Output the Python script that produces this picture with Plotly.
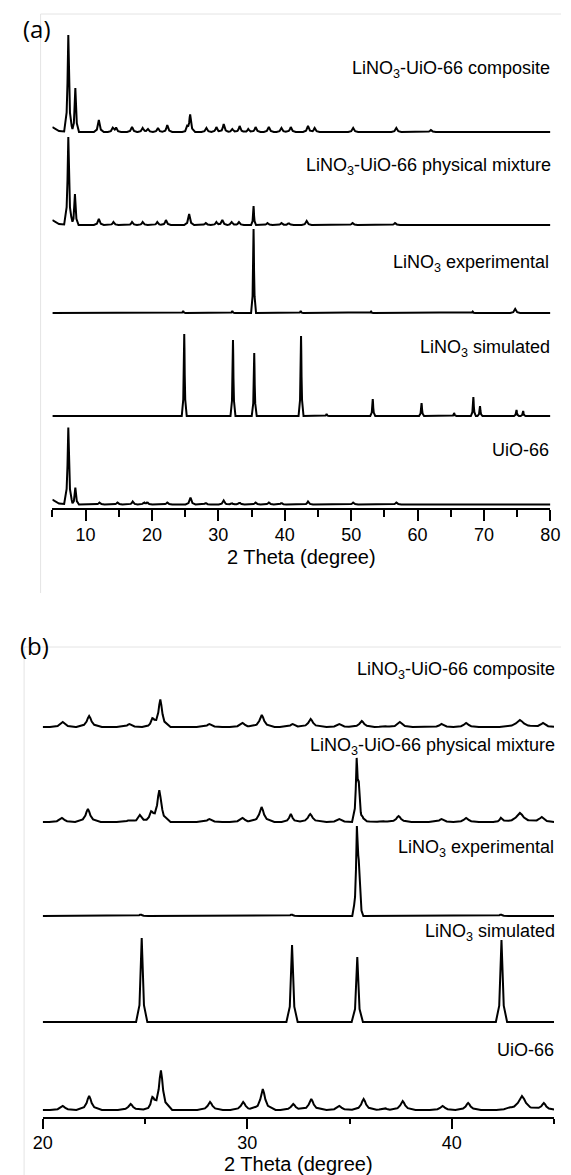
import numpy as np
import plotly.graph_objects as go

# ---------------- DATA (intensities in a.u.) ----------------
# Panel (a): 2-theta 5-80
A_COMP_POS = [5.0, 7.4, 8.46, 12.0, 14.1, 14.6, 17.0, 18.6, 19.4, 20.9, 22.3, 25.3, 25.75, 28.2, 29.7,
              30.8, 32.1, 33.2, 34.5, 35.6, 37.6, 39.5, 40.9, 43.5, 44.5, 50.3, 56.8, 62.0]
A_COMP_H = [5, 97, 44, 12, 4, 4, 5, 4, 3, 4, 7, 4, 17, 4, 5, 8, 3, 6, 3, 5, 5, 4, 5, 6, 4, 4, 4, 2]
A_COMP_W = [1.0, 0.25, 0.22] + [0.3] * 25

A_MIX_POS = [5.0, 7.4, 8.4, 12.0, 14.2, 17.0, 18.6, 20.8, 22.1, 25.6, 28.1, 29.7, 30.6, 32.0, 33.1,
             35.3, 37.4, 39.5, 40.6, 43.3, 50.2, 56.6]
A_MIX_H = [5, 88, 31, 6, 3, 3, 3, 3, 5, 11, 2, 3, 5, 3, 3, 19, 2, 2, 2, 4, 2, 2]
A_MIX_W = [1.0, 0.25, 0.22] + [0.3] * 12 + [0.15] + [0.3] * 6

A_EXP_POS = [24.7, 32.1, 35.3, 42.4, 53.0, 68.3, 74.7]
A_EXP_H = [2, 2, 84, 2, 1.5, 1.5, 4]
A_EXP_W = [0.15, 0.15, 0.15, 0.15, 0.15, 0.15, 0.3]

A_SIM_POS = [24.86, 32.2, 35.4, 42.45, 46.3, 53.25, 60.6, 65.5, 68.4, 69.4, 74.9, 75.9]
A_SIM_H = [82, 76, 63, 80, 2, 17, 13, 3, 19, 10, 6, 5]
A_SIM_W = [0.15] * 12

A_UIO_POS = [5.0, 7.4, 8.46, 12.1, 14.8, 17.1, 18.8, 19.3, 22.3, 25.8, 28.1, 30.8, 32.0, 33.2, 35.6,
             37.6, 39.5, 43.5, 50.3, 56.8]
A_UIO_H = [5, 77, 17, 2, 2, 3, 2, 2, 2, 7, 1.5, 4, 1.5, 2, 2, 2, 1.5, 3, 2, 2]
A_UIO_W = [1.0, 0.25, 0.22] + [0.3] * 17

# Panel (b): 2-theta 20-45
B_COMP_POS = [20.98, 22.27, 24.24, 25.36, 25.75, 28.15, 29.77, 30.71, 32.22, 33.1, 34.5, 35.6, 36.7,
              37.46, 39.5, 40.7, 43.33, 44.46]
B_COMP_H = [5, 11, 3, 7, 27, 3, 4, 12, 3, 8, 3, 6, 1, 5, 3, 4, 7, 4]
B_COMP_W = [0.25, 0.25, 0.25, 0.2, 0.2, 0.25, 0.25, 0.25, 0.25, 0.25, 0.25, 0.25, 0.25, 0.25, 0.25,
            0.25, 0.4, 0.25]

B_MIX_POS = [20.94, 22.21, 24.24, 24.75, 25.3, 25.7, 28.15, 29.77, 30.7, 32.13, 33.08, 34.5, 35.35,
             35.45, 35.65, 36.6, 37.4, 39.5, 40.7, 42.4, 43.33, 44.4]
B_MIX_H = [4, 13, 2, 7, 8, 31, 3, 4, 15, 8, 8, 3, 58, 30, 4, 1, 6, 3, 4, 4, 9, 5]
B_MIX_W = [0.25, 0.25, 0.25, 0.18, 0.22, 0.22, 0.25, 0.25, 0.25, 0.18, 0.25, 0.25, 0.09, 0.09, 0.2,
           0.25, 0.25, 0.25, 0.25, 0.15, 0.4, 0.25]

B_EXP_POS = [24.79, 32.17, 35.36, 35.45, 42.4]
B_EXP_H = [1.5, 1.5, 82, 40, 1.5]
B_EXP_W = [0.15, 0.15, 0.09, 0.09, 0.15]

B_SIM_POS = [24.84, 32.19, 35.38, 42.43]
B_SIM_H = [84, 77, 65, 82]
B_SIM_W = [0.11, 0.11, 0.11, 0.11]

B_UIO_POS = [20.98, 22.27, 24.3, 25.36, 25.78, 28.18, 29.8, 30.76, 32.25, 33.13, 34.5, 35.69, 36.7,
             37.6, 39.55, 40.8, 42.8, 43.43, 44.5]
B_UIO_H = [4, 14, 6, 10, 39, 8, 8, 21, 6, 11, 4, 11, 2, 9, 4, 7, 1, 14, 7]
B_UIO_W = [0.25, 0.25, 0.25, 0.2, 0.22, 0.25, 0.25, 0.25, 0.25, 0.25, 0.25, 0.25, 0.25, 0.25, 0.25,
           0.25, 0.25, 0.4, 0.25]

LABELS = ["LiNO<sub>3</sub>-UiO-66 composite", "LiNO<sub>3</sub>-UiO-66 physical mixture",
          "LiNO<sub>3</sub> experimental", "LiNO<sub>3</sub> simulated", "UiO-66"]
A_TICKS = [10, 20, 30, 40, 50, 60, 70, 80]
A_MINOR = [5, 15, 25, 35, 45, 55, 65, 75]
B_TICKS = [20, 30, 40]
B_MINOR = [25, 35, 45]
X_TITLE = "2 Theta (degree)"

# ---------------- rendering helpers ----------------
W, H = 571, 1175
PEAK_SHAPE_X = [-2.5, -1.0, -0.5, -0.25, 0.0, 0.25, 0.5, 1.0, 2.5]
PEAK_SHAPE_Y = [0.0, 0.2, 0.5, 0.8, 1.0, 0.8, 0.5, 0.2, 0.0]


def pattern(pos, hgt, wid, lo, hi):
    keys = {lo, hi}
    for p, w in zip(pos, wid):
        for k in PEAK_SHAPE_X:
            keys.add(p + k * w)
    xs = np.array(sorted(k for k in keys if lo <= k <= hi))
    ys = np.zeros(len(xs))
    for p, h, w in zip(pos, hgt, wid):
        ys += h * np.interp((xs - p) / w, PEAK_SHAPE_X, PEAK_SHAPE_Y, left=0, right=0)
    return xs, ys


def py(px):  # pixel row -> paper y
    return 1 - px / H


def pxx(px):
    return px / W


fig = go.Figure()

A_SETS = [(A_COMP_POS, A_COMP_H, A_COMP_W), (A_MIX_POS, A_MIX_H, A_MIX_W),
          (A_EXP_POS, A_EXP_H, A_EXP_W), (A_SIM_POS, A_SIM_H, A_SIM_W), (A_UIO_POS, A_UIO_H, A_UIO_W)]
A_OFFS = [376, 283, 195, 92, 3.5]
for (pos, hgt, wid), off, name in zip(A_SETS, A_OFFS, LABELS):
    xs, ys = pattern(pos, hgt, wid, 5, 80)
    fig.add_trace(go.Scatter(x=xs, y=ys + off, mode="lines", name=name,
                             line=dict(color="black", width=2), xaxis="x", yaxis="y",
                             showlegend=False, hoverinfo="skip"))

B_SETS = [(B_COMP_POS, B_COMP_H, B_COMP_W), (B_MIX_POS, B_MIX_H, B_MIX_W),
          (B_EXP_POS, B_EXP_H, B_EXP_W), (B_SIM_POS, B_SIM_H, B_SIM_W), (B_UIO_POS, B_UIO_H, B_UIO_W)]
B_OFFS = [390, 295, 201, 95, 7]
for (pos, hgt, wid), off, name in zip(B_SETS, B_OFFS, LABELS):
    xs, ys = pattern(pos, hgt, wid, 20, 45)
    fig.add_trace(go.Scatter(x=xs, y=ys + off, mode="lines", name=name,
                             line=dict(color="black", width=2), xaxis="x2", yaxis="y2",
                             showlegend=False, hoverinfo="skip"))

AXFONT = "Liberation Sans, Arial, sans-serif"
common_x = dict(showline=True, linecolor="black", linewidth=2, ticks="outside", tickcolor="black",
                tickwidth=1.6, showgrid=False, zeroline=False, ticklabelstandoff=-2,
                tickfont=dict(family=AXFONT, size=18, color="black"))

fig.update_layout(
    width=W, height=H, margin=dict(l=0, r=0, t=0, b=0),
    paper_bgcolor="white", plot_bgcolor="white",
    xaxis=dict(domain=[pxx(43.9), pxx(560)], range=[5, 80], anchor="y",
               tickvals=A_TICKS, ticklen=11,
               minor=dict(tickvals=A_MINOR, ticklen=7, tickcolor="black",
                          tickwidth=1.6, ticks="outside", showgrid=False),
               **common_x),
    yaxis=dict(domain=[py(508), py(20)], range=[0, 488], visible=False, anchor="x"),
    xaxis2=dict(domain=[pxx(33.9), pxx(563.8)], range=[20, 45], anchor="y2",
                tickvals=B_TICKS, ticklen=10,
                minor=dict(tickvals=B_MINOR, ticklen=5, tickcolor="black",
                           tickwidth=1.6, ticks="outside", showgrid=False),
                **common_x),
    yaxis2=dict(domain=[py(1117), py(660)], range=[0, 457], visible=False, anchor="x2"),
)

GRAY = "#e4e4e4"
for x0, y0, x1, y1 in [(31.7, 14, 571, 14), (31.7, 14, 31.7, 593),
                       (14.6, 647, 571, 647), (14.6, 647, 14.6, 1175)]:
    fig.add_shape(type="line", xref="paper", yref="paper", x0=pxx(x0), y0=py(y0), x1=pxx(x1), y1=py(y1),
                  line=dict(color=GRAY, width=1), layer="below")

A_LAB_Y = [69, 167, 263, 348, 450]
A_LAB_X = [562, 562.5, 561, 562, 561]
B_LAB_Y = [670, 746, 848, 932, 1050]
B_LAB_X = [566.5, 566.5, 566, 566.5, 566]
for lab, xx, yy in zip(LABELS, A_LAB_X, A_LAB_Y):
    fig.add_annotation(text=lab, xref="paper", yref="paper", x=pxx(xx), y=py(yy), xanchor="right",
                       yanchor="middle", showarrow=False,
                       font=dict(family=AXFONT, size=18, color="black"))
for lab, xx, yy in zip(LABELS, B_LAB_X, B_LAB_Y):
    fig.add_annotation(text=lab, xref="paper", yref="paper", x=pxx(xx), y=py(yy), xanchor="right",
                       yanchor="middle", showarrow=False,
                       font=dict(family=AXFONT, size=18, color="black"))

fig.add_annotation(text=X_TITLE, xref="paper", yref="paper", x=pxx(302), y=py(557), xanchor="center",
                   yanchor="middle", showarrow=False, font=dict(family=AXFONT, size=20, color="black"))
fig.add_annotation(text=X_TITLE, xref="paper", yref="paper", x=pxx(299), y=py(1164), xanchor="center",
                   yanchor="middle", showarrow=False, font=dict(family=AXFONT, size=20, color="black"))

PFONT = "Open Sans, Noto Sans, sans-serif"
fig.add_annotation(text="(a)", xref="paper", yref="paper", x=pxx(27.5), y=py(29), xanchor="center",
                   yanchor="middle", showarrow=False, font=dict(family=PFONT, size=24, color="black"))
fig.add_annotation(text="(b)", xref="paper", yref="paper", x=pxx(25), y=py(646), xanchor="center",
                   yanchor="middle", showarrow=False, font=dict(family=PFONT, size=24, color="black"))

fig.write_html("out.html", config={"displayModeBar": False},
               post_script="document.body.style.margin='0';document.documentElement.style.overflow='hidden';")
